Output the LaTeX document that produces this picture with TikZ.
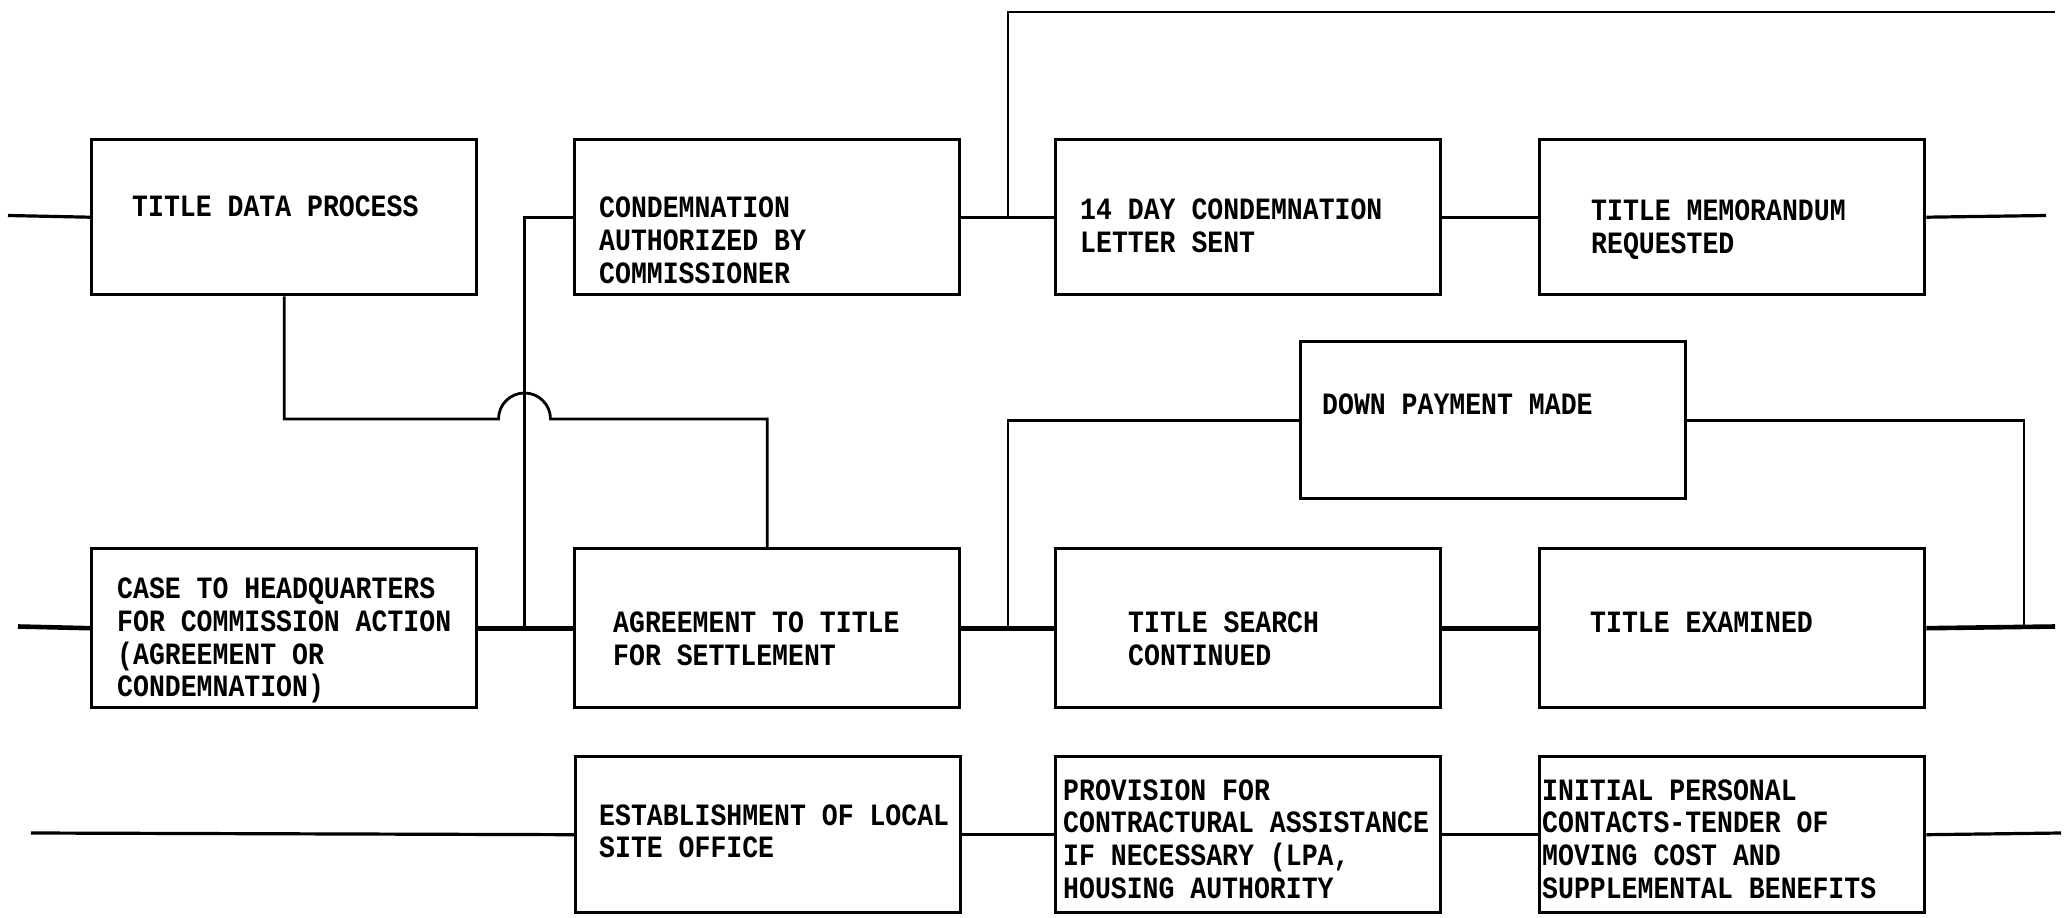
\documentclass[tikz,border=0pt]{standalone}
\usepackage{fontspec}
\newfontfamily\typewriter[FakeStretch=0.855]{Liberation Mono}
\begin{document}
\begin{tikzpicture}[x=1pt,y=-1pt,
  box/.style={draw, line width=3.4pt, minimum width=385pt, inner sep=0pt, anchor=north west},
  % a multi-line label is placed by the baseline of its last line
  lbl/.style={font=\typewriter\bfseries\fontsize{31}{32.8}\selectfont, inner sep=0pt, anchor=base west, align=left},
  link/.style={line width=3.2pt},
  thin/.style={line width=2.8pt},
  main/.style={line width=4.6pt},
]
\useasboundingbox (0,0) rectangle (2070,918);

% ---- boxes ----
\node[box, minimum height=155pt] (tdp)    at (90,138)   {};
\node[box, minimum height=155pt] (cond)   at (573,138)  {};
\node[box, minimum height=155pt] (day14)  at (1054,138) {};
\node[box, minimum height=155pt] (memo)   at (1538,138) {};
\node[box, minimum height=157pt] (down)   at (1299,340) {};
\node[box, minimum height=159pt] (case)   at (90,547)   {};
\node[box, minimum height=159pt] (agr)    at (573,547)  {};
\node[box, minimum height=159pt] (search) at (1054,547) {};
\node[box, minimum height=159pt] (exam)   at (1538,547) {};
\node[box, minimum height=156pt] (estab)  at (574,755)  {};
\node[box, minimum height=156pt] (prov)   at (1054,755) {};
\node[box, minimum height=156pt] (init)   at (1538,755) {};

% ---- labels ----
\node[lbl] (tdp-t)    at (132,216.5)  {TITLE DATA PROCESS};
\node[lbl] (cond-t)   at (599,283.1)  {CONDEMNATION\\AUTHORIZED BY\\COMMISSIONER};
\node[lbl] (day14-t)  at (1080,252.3) {14 DAY CONDEMNATION\\LETTER SENT};
\node[lbl] (memo-t)   at (1591,253.3) {TITLE MEMORANDUM\\REQUESTED};
\node[lbl] (down-t)   at (1322,414.5) {DOWN PAYMENT MADE};
\node[lbl] (case-t)   at (117,696.9)  {CASE TO HEADQUARTERS\\FOR COMMISSION ACTION\\(AGREEMENT OR\\CONDEMNATION)};
\node[lbl] (agr-t)    at (613,665.3)  {AGREEMENT TO TITLE\\FOR SETTLEMENT};
\node[lbl] (search-t) at (1128,665.3) {TITLE SEARCH\\CONTINUED};
\node[lbl] (exam-t)   at (1590,632.5) {TITLE EXAMINED};
\node[lbl] (estab-t)  at (599,857.8)  {ESTABLISHMENT OF LOCAL\\SITE OFFICE};
\node[lbl] (prov-t)   at (1063,898.4) {PROVISION FOR\\CONTRACTURAL ASSISTANCE\\IF NECESSARY (LPA,\\HOUSING AUTHORITY};
\node[lbl] (init-t)   at (1542,898.4) {INITIAL PERSONAL\\CONTACTS-TENDER OF\\MOVING COST AND\\SUPPLEMENTAL BENEFITS};

% ---- free ends and junctions ----
\coordinate (inL1)   at (8,215.5);
\coordinate (out1)   at (2046,215.5);
\coordinate (j2)     at (1008,215.5);
\coordinate (topEnd) at (2055,12);
\coordinate (hop)    at (524.5,419);
\coordinate (j1)     at (524.5,626.5);
\coordinate (inL2)   at (18,626.5);
\coordinate (out2)   at (2055,626.5);
\coordinate (j3)     at (1008,626.5);
\coordinate (j4)     at (2024,626.5);
\coordinate (inL3)   at (31,833);
\coordinate (out3)   at (2061,833);

% ---- top row ----
\draw[link] (inL1) -- (tdp.west);
\draw[link] (cond.east) -- (day14.west);
\draw[link] (day14.east) -- (memo.west);
\draw[link] (memo.east) -- (out1);
\draw[thin] (j2) |- (topEnd);

% ---- crossing links between the first two rows ----
\draw[thin] (cond.west) -| (j1);
\draw[thin] (tdp.south) |- ([xshift=-26pt]hop)
  arc[start angle=180, end angle=0, radius=26pt] -| (agr.north);

% ---- middle row ----
\draw[main] (inL2) -- (case.west);
\draw[main] (case.east) -- (agr.west);
\draw[main] (agr.east) -- (search.west);
\draw[main] (search.east) -- (exam.west);
\draw[main] (exam.east) -- (out2);
\draw[thin] (j3) |- (down.west);
\draw[thin] (down.east) -| (j4);

% ---- bottom row ----
\draw[link] (inL3) -- (estab.west);
\draw[link] (estab.east) -- (prov.west);
\draw[link] (prov.east) -- (init.west);
\draw[link] (init.east) -- (out3);
\end{tikzpicture}
\end{document}
